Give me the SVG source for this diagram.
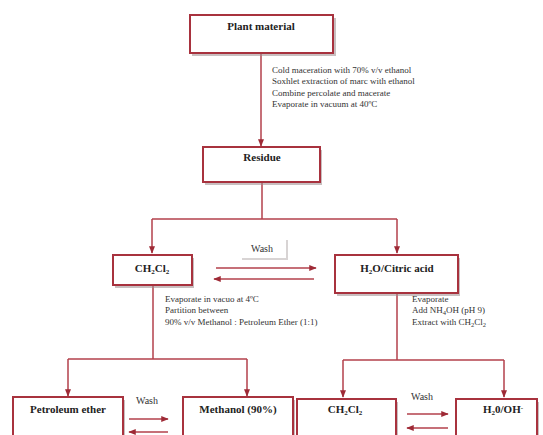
<svg xmlns="http://www.w3.org/2000/svg" width="543" height="435" viewBox="0 0 543 435">
<style>
.box{fill:#fff;stroke:#a8323e;stroke-width:2}
.sh{fill:#9a8a8c;opacity:0.55}
.lbl{font-family:"Liberation Serif",serif;font-weight:bold;font-size:11px;fill:#222;text-anchor:middle}
.note{font-family:"Liberation Serif",serif;font-size:9px;fill:#333}
.wash{font-family:"Liberation Serif",serif;font-size:10px;fill:#333;text-anchor:middle}
.ln{fill:none;stroke:#b3404b;stroke-width:1.5}
.ar{fill:none;stroke:#b3404b;stroke-width:1.5;marker-end:url(#ah)}
</style>
<defs>
<marker id="ah" viewBox="0 0 10 10" refX="9" refY="5" markerWidth="5" markerHeight="5" orient="auto" markerUnits="strokeWidth">
<path d="M0,1 L10,5 L0,9 z" fill="#9e2a36"/>
</marker>
</defs>
<rect width="543" height="435" fill="#fff"/>
<g id="connectors">
<line class="ar" x1="261" y1="53" x2="261" y2="146"/>
<polyline class="ln" points="262,183 262,219"/>
<polyline class="ln" points="152,219 397,219"/>
<line class="ar" x1="152" y1="219" x2="152" y2="253"/>
<line class="ar" x1="397" y1="219" x2="397" y2="253"/>
<line class="ar" x1="216" y1="268" x2="316" y2="268"/>
<line class="ar" x1="314" y1="279" x2="214" y2="279"/>
<polyline class="ln" points="153,286 153,359"/>
<polyline class="ln" points="68,359 247,359"/>
<line class="ar" x1="68" y1="359" x2="68" y2="396"/>
<line class="ar" x1="247" y1="359" x2="247" y2="396"/>
<polyline class="ln" points="397,294 397,360"/>
<polyline class="ln" points="343,360 504,360"/>
<line class="ar" x1="343" y1="360" x2="343" y2="397"/>
<line class="ar" x1="504" y1="360" x2="504" y2="397"/>
<line class="ar" x1="129" y1="419" x2="168" y2="419"/>
<line class="ar" x1="168" y1="432" x2="129" y2="432"/>
<line class="ar" x1="407" y1="414" x2="448" y2="414"/>
<line class="ar" x1="448" y1="428" x2="407" y2="428"/>
</g>
<g id="plant">
<rect class="sh" x="192" y="18" width="144" height="38"/>
<rect class="box" x="190" y="15" width="143" height="38"/>
<text class="lbl" x="261" y="30">Plant material</text>
</g>
<g id="step1">
<text class="note" x="272" y="73">Cold maceration with 70% v/v ethanol</text>
<text class="note" x="272" y="84">Soxhlet extraction of marc with ethanol</text>
<text class="note" x="272" y="96">Combine percolate and macerate</text>
<text class="note" x="272" y="107">Evaporate in vacuum at 40ºC</text>
</g>
<g id="residue">
<rect class="sh" x="205" y="150" width="117" height="35"/>
<rect class="box" x="203" y="147" width="117" height="35"/>
<text class="lbl" x="262" y="161">Residue</text>
</g>
<g id="wash-top">
<rect x="242" y="240" width="46" height="20" fill="#d8d4d4"/>
<rect x="240" y="238" width="46" height="20" fill="#fff"/>
<text class="wash" x="262" y="252">Wash</text>
</g>
<g id="ch2cl2-a">
<rect class="sh" x="115" y="258" width="79" height="30"/>
<rect class="box" x="113" y="255" width="79" height="30"/>
<text class="lbl" x="152" y="272">CH<tspan font-size="7" dy="2">2</tspan><tspan dy="-2">Cl</tspan><tspan font-size="7" dy="2">2</tspan></text>
</g>
<g id="h2o-citric">
<rect class="sh" x="337" y="258" width="123" height="38"/>
<rect class="box" x="335" y="255" width="123" height="38"/>
<text class="lbl" x="397" y="272">H<tspan font-size="7" dy="2">2</tspan><tspan dy="-2">O/Citric acid</tspan></text>
</g>
<g id="step2">
<text class="note" x="165" y="302">Evaporate in vacuo at 4ºC</text>
<text class="note" x="165" y="313">Partition between</text>
<text class="note" x="165" y="325">90% v/v Methanol : Petroleum Ether (1:1)</text>
</g>
<g id="step3">
<text class="note" x="412" y="302">Evaporate</text>
<text class="note" x="412" y="313">Add NH<tspan font-size="6.5" dy="2">4</tspan><tspan dy="-2">OH (pH 9)</tspan></text>
<text class="note" x="412" y="325">Extract with CH<tspan font-size="6.5" dy="2">2</tspan><tspan dy="-2">Cl</tspan><tspan font-size="6.5" dy="2">2</tspan></text>
</g>
<g id="petroleum">
<rect class="sh" x="15" y="400" width="110" height="45"/>
<rect class="box" x="13" y="397" width="110" height="45"/>
<text class="lbl" x="68" y="413">Petroleum ether</text>
</g>
<g id="methanol">
<rect class="sh" x="185" y="400" width="110" height="45"/>
<rect class="box" x="183" y="397" width="110" height="45"/>
<text class="lbl" x="238" y="413">Methanol (90%)</text>
</g>
<g id="ch2cl2-b">
<rect class="sh" x="299" y="402" width="99" height="45"/>
<rect class="box" x="297" y="399" width="99" height="45"/>
<text class="lbl" x="345" y="413">CH<tspan font-size="7" dy="2">2</tspan><tspan dy="-2">Cl</tspan><tspan font-size="7" dy="2">2</tspan></text>
</g>
<g id="h2o-oh">
<rect class="sh" x="458" y="402" width="81" height="45"/>
<rect class="box" x="456" y="399" width="81" height="45"/>
<text class="lbl" x="503" y="413">H<tspan font-size="7" dy="2">2</tspan><tspan dy="-2">0/OH</tspan><tspan font-size="7" dy="-3">-</tspan></text>
</g>
<g id="wash-labels">
<text class="wash" x="147" y="404">Wash</text>
<text class="wash" x="422" y="400">Wash</text>
</g>
</svg>
